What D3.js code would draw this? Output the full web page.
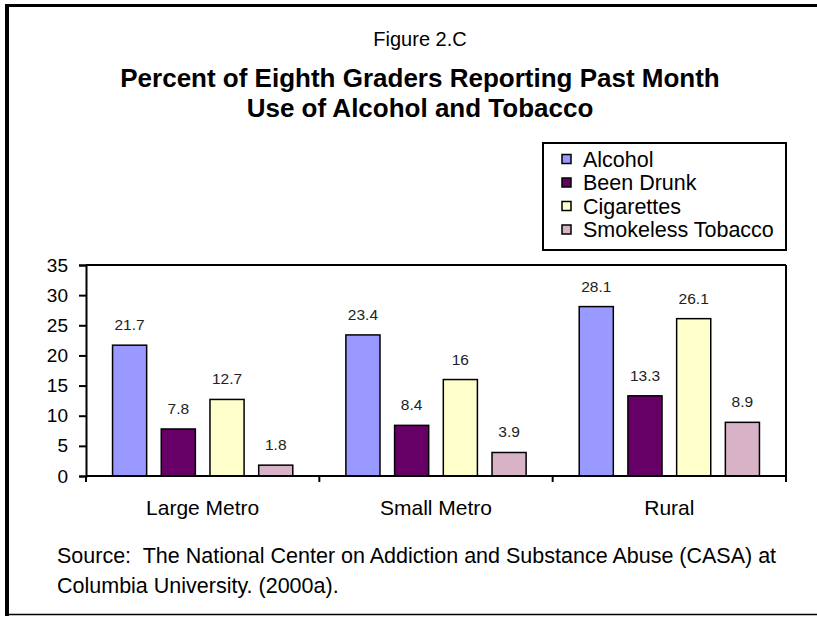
<!DOCTYPE html>
<html>
<head>
<meta charset="utf-8">
<script src="https://cdn.jsdelivr.net/npm/d3@7"></script>
<style>
  html, body { margin: 0; padding: 0; background: #fff; }
  svg { display: block; font-family: Arial, "Liberation Sans", sans-serif; }
  text { white-space: pre; }
</style>
</head>
<body>
<svg id="chart" width="817" height="617"></svg>
<script>
const categories = ["Large Metro", "Small Metro", "Rural"];
const seriesNames = ["Alcohol", "Been Drunk", "Cigarettes", "Smokeless Tobacco"];
const alcohol    = [21.7, 23.4, 28.1];
const beenDrunk  = [7.8, 8.4, 13.3];
const cigarettes = [12.7, 16, 26.1];
const smokeless  = [1.8, 3.9, 8.9];
const yTicks = [0, 5, 10, 15, 20, 25, 30, 35];
const colors = ["#9999FF", "#660066", "#FFFFCC", "#D8B2C6"];
const figureLabel = "Figure 2.C";
const titleLines = ["Percent of Eighth Graders Reporting Past Month", "Use of Alcohol and Tobacco"];
const sourceLines = ["Source:  The National Center on Addiction and Substance Abuse (CASA) at", "Columbia University. (2000a)."];

const seriesValues = [alcohol, beenDrunk, cigarettes, smokeless];
const data = categories.map((c, i) => ({
  category: c,
  values: seriesNames.map((s, j) => ({ series: s, value: seriesValues[j][i], idx: j }))
}));

const svg = d3.select("#chart");
svg.append("rect").attr("width", 817).attr("height", 617).attr("fill", "#fff");

// outer frame
svg.append("line").attr("x1", 5).attr("x2", 817).attr("y1", 5.5).attr("y2", 5.5).attr("stroke", "#000").attr("stroke-width", 3);
svg.append("line").attr("x1", 7).attr("x2", 7).attr("y1", 4).attr("y2", 616).attr("stroke", "#000").attr("stroke-width", 4);
svg.append("line").attr("x1", 5).attr("x2", 817).attr("y1", 614.5).attr("y2", 614.5).attr("stroke", "#000").attr("stroke-width", 1.5);

// titles
svg.append("text").attr("x", 420).attr("y", 46).attr("text-anchor", "middle")
  .attr("font-size", 20).text(figureLabel);
svg.selectAll(".title").data(titleLines).enter().append("text")
  .attr("x", 420).attr("y", (d, i) => 87 + i * 30).attr("text-anchor", "middle")
  .attr("font-size", 26).attr("font-weight", "bold").text(d => d);

const pLeft = 86, pRight = 786, pTop = 265, pBottom = 476;

const x0 = d3.scaleBand().domain(categories).range([pLeft, pRight]).paddingInner(0).paddingOuter(0);
const x1 = d3.scaleBand().domain(seriesNames).range([0, x0.bandwidth()]).paddingInner(0.3).paddingOuter(0.545);
const y = d3.scaleLinear().domain([0, 35]).range([pBottom, pTop]);

// plot area frame (top/right)
svg.append("line").attr("x1", pLeft).attr("x2", pRight).attr("y1", pTop).attr("y2", pTop).attr("stroke", "#000").attr("stroke-width", 2);
svg.append("line").attr("x1", pRight).attr("x2", pRight).attr("y1", pTop).attr("y2", pBottom).attr("stroke", "#000").attr("stroke-width", 2);

// bars
const groups = svg.selectAll(".grp").data(data).enter().append("g")
  .attr("transform", d => `translate(${x0(d.category)},0)`);
groups.selectAll("rect").data(d => d.values).enter().append("rect")
  .attr("x", d => x1(d.series))
  .attr("width", x1.bandwidth())
  .attr("y", d => y(d.value))
  .attr("height", d => y(0) - y(d.value))
  .attr("fill", d => colors[d.idx])
  .attr("stroke", "#000").attr("stroke-width", 1.5);
groups.selectAll("text").data(d => d.values).enter().append("text")
  .attr("x", d => x1(d.series) + x1.bandwidth() / 2)
  .attr("y", d => y(d.value) - 15)
  .attr("text-anchor", "middle")
  .attr("font-size", 15.5).attr("fill", "#222")
  .text(d => d.value);

// y axis
const yAxis = svg.append("g").attr("transform", `translate(${pLeft},0)`)
  .call(d3.axisLeft(y).tickValues(yTicks).tickSize(7).tickPadding(11).tickFormat(d3.format("d")));
yAxis.select(".domain").attr("stroke", "#000").attr("stroke-width", 2);
yAxis.selectAll(".tick line").attr("stroke", "#000").attr("stroke-width", 2);
yAxis.selectAll(".tick text").attr("font-size", 19).attr("font-family", "Arial, 'Liberation Sans', sans-serif").attr("fill", "#000");

// x axis with boundary ticks
const xAxis = svg.append("g").attr("transform", `translate(0,${pBottom})`);
xAxis.append("line").attr("x1", pLeft).attr("x2", pRight).attr("y1", 0).attr("y2", 0).attr("stroke", "#000").attr("stroke-width", 2);
const boundaries = categories.map(c => x0(c)).concat([x0(categories[categories.length - 1]) + x0.bandwidth()]);
xAxis.selectAll(".xtick").data(boundaries).enter().append("line")
  .attr("x1", d => d).attr("x2", d => d).attr("y1", 0).attr("y2", 6)
  .attr("stroke", "#000").attr("stroke-width", 2);
xAxis.selectAll(".xlabel").data(categories).enter().append("text")
  .attr("x", d => x0(d) + x0.bandwidth() / 2).attr("y", 39)
  .attr("text-anchor", "middle").attr("font-size", 21).text(d => d);

// legend
const lg = svg.append("g");
lg.append("rect").attr("x", 543).attr("y", 143).attr("width", 243).attr("height", 107)
  .attr("fill", "#fff").attr("stroke", "#000").attr("stroke-width", 2);
const items = lg.selectAll(".li").data(seriesNames).enter().append("g")
  .attr("transform", (d, i) => `translate(562,${159 + i * 23.5})`);
items.append("rect").attr("x", 0).attr("y", -4.5).attr("width", 9).attr("height", 9)
  .attr("fill", (d, i) => colors[i]).attr("stroke", "#000").attr("stroke-width", 1.5);
items.append("text").attr("x", 21).attr("y", 7.5).attr("font-size", 21.5).text(d => d);

// source
svg.selectAll(".src").data(sourceLines).enter().append("text")
  .attr("x", 57).attr("y", (d, i) => 563 + i * 30).attr("font-size", 21.5).text(d => d);
</script>
</body>
</html>
